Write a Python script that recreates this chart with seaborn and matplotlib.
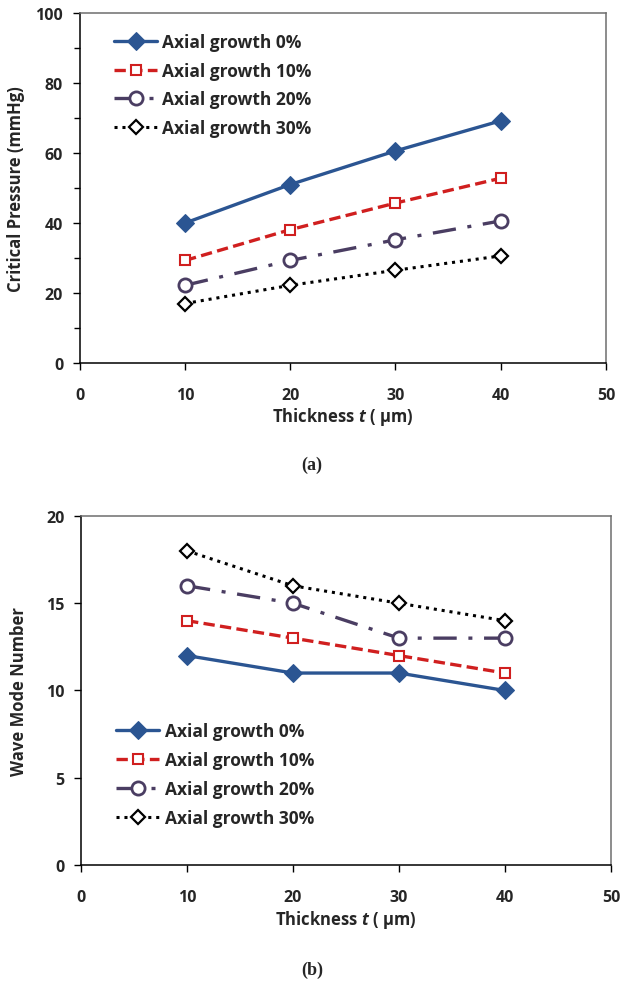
import numpy as np
import pandas as pd
import matplotlib
matplotlib.use("Agg")
import matplotlib.pyplot as plt
from matplotlib.ticker import MultipleLocator
import seaborn as sns

# ── data ────────────────────────────────────────────────────────────────────────
thickness = [10, 20, 30, 40]
series_labels = ["Axial growth 0%", "Axial growth 10%", "Axial growth 20%", "Axial growth 30%"]

pressure_0 = [40.0, 51.0, 60.6, 69.2]
pressure_10 = [29.3, 38.1, 45.7, 52.8]
pressure_20 = [22.2, 29.3, 35.2, 40.6]
pressure_30 = [17.0, 22.2, 26.5, 30.6]

mode_0 = [12, 11, 11, 10]
mode_10 = [14, 13, 12, 11]
mode_20 = [16, 15, 13, 13]
mode_30 = [18, 16, 15, 14]

# ── style ───────────────────────────────────────────────────────────────────────
sns.set_theme(style="white")
FONT = ["Open Sans", "DejaVu Sans"]
plt.rcParams["font.family"] = FONT
plt.rcParams["font.weight"] = "bold"
plt.rcParams["mathtext.fontset"] = "custom"
plt.rcParams["mathtext.it"] = "Open Sans:italic:bold"
plt.rcParams["mathtext.rm"] = "Open Sans:bold"

STYLES = [
    dict(color="#2B5592", linestyle="-", marker="D", markersize=9,
         markerfacecolor="#2B5592", markeredgecolor="#2B5592", linewidth=2.4),
    dict(color="#D01F1F", linestyle=(0, (3.4, 1.6)), marker="s", markersize=7.5,
         markerfacecolor="white", markeredgecolor="#D01F1F", markeredgewidth=1.5, linewidth=2.4),
    dict(color="#4A3D62", linestyle=(0, (7, 3.5, 1.2, 3.5)), marker="o", markersize=9.5,
         markerfacecolor="white", markeredgecolor="#4A3D62", markeredgewidth=2.0, linewidth=2.4),
    dict(color="black", linestyle=(0, (1, 1.6)), marker="D", markersize=7,
         markerfacecolor="white", markeredgecolor="black", markeredgewidth=1.6, linewidth=2.2),
]


def draw_panel(ax, series, ylim, ymajor, yminor, ylabel, legend_anchor):
    for vals, lab, st in zip(series, series_labels, STYLES):
        df = pd.DataFrame({"t": thickness, "v": vals})
        sns.lineplot(data=df, x="t", y="v", ax=ax, label=lab, **st)
    ax.set_xlim(0, 50)
    ax.set_ylim(*ylim)
    ax.xaxis.set_major_locator(MultipleLocator(10))
    ax.yaxis.set_major_locator(MultipleLocator(ymajor))
    if yminor:
        ax.yaxis.set_minor_locator(MultipleLocator(yminor))
    ax.tick_params(axis="both", which="major", direction="out", length=5, width=1,
                   labelsize=11.5, color="black")
    ax.tick_params(axis="y", which="minor", direction="out", length=4, width=1,
                   color="black", left=True)
    ax.tick_params(axis="x", pad=12)
    ax.tick_params(axis="y", pad=7)
    ax.tick_params(bottom=True, left=True)
    for lbl in ax.get_xticklabels() + ax.get_yticklabels():
        lbl.set_fontweight("bold")
    for side in ["left", "bottom"]:
        ax.spines[side].set_color("black")
        ax.spines[side].set_linewidth(1.1)
    for side in ["top", "right"]:
        ax.spines[side].set_color("#6E6E6E")
        ax.spines[side].set_linewidth(1.1)
    ax.set_xlabel(r"Thickness $\mathit{t}$ ( µm)", fontsize=12, fontweight="bold")
    ax.set_ylabel(ylabel, fontsize=12, fontweight="bold")
    ax.legend(loc="upper left", bbox_to_anchor=legend_anchor, frameon=False,
              handlelength=2.5, handletextpad=0.3, labelspacing=0.62,
              borderpad=0, borderaxespad=0, prop={"family": FONT, "weight": "bold", "size": 12.5})


fig = plt.figure(figsize=(6.24, 9.87), dpi=100)
ax_a = fig.add_axes([0.128, 0.6312, 0.843, 0.3546])
ax_b = fig.add_axes([0.130, 0.1226, 0.849, 0.3536])

draw_panel(ax_a, [pressure_0, pressure_10, pressure_20, pressure_30],
           (0, 100), 20, 10, "Critical Pressure (mmHg)", (0.0645, 0.943))
draw_panel(ax_b, [mode_0, mode_10, mode_20, mode_30],
           (0, 20), 5, None, "Wave Mode Number", (0.066, 0.4085))

ax_a.yaxis.set_label_coords(-0.105, 0.5)
ax_a.xaxis.set_label_coords(0.5, -0.12)
ax_b.yaxis.set_label_coords(-0.101, 0.5)
ax_b.xaxis.set_label_coords(0.5, -0.123)

fig.text(0.5, 1 - 465 / 987, "(a)", ha="center", va="center", fontsize=13,
         fontweight="bold", family=["Liberation Serif", "DejaVu Serif"])
fig.text(0.5, 1 - 970 / 987, "(b)", ha="center", va="center", fontsize=13,
         fontweight="bold", family=["Liberation Serif", "DejaVu Serif"])

fig.savefig("out.png", dpi=100)
